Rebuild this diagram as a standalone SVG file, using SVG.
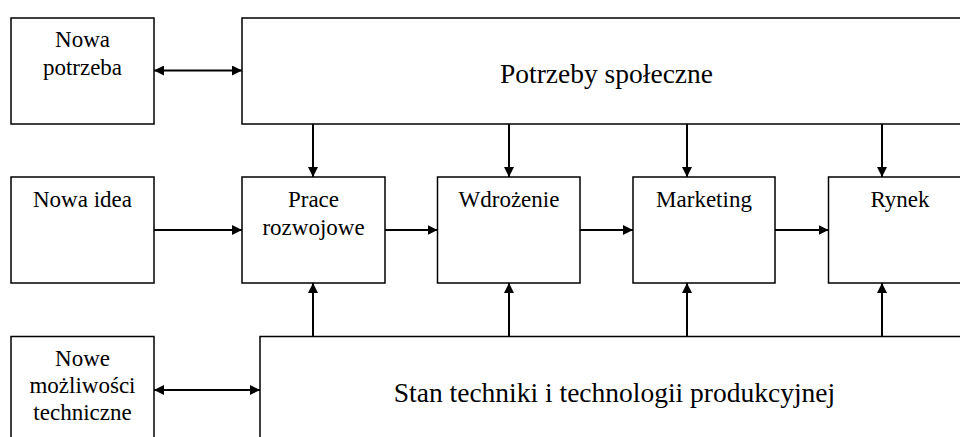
<svg xmlns="http://www.w3.org/2000/svg" width="960" height="437" viewBox="0 0 960 437">
  <style>
    .box { fill: #fff; stroke: #000; stroke-width: 1.5; }
    .lbl { font-family: "Liberation Serif", "Times New Roman", serif; font-size: 23px; fill: #000; text-anchor: middle; }
    .big { font-size: 27.5px; }
    .conn { stroke: #000; stroke-width: 2; fill: none; }
  </style>
  <defs>
    <marker id="arrow" viewBox="0 0 10 10" refX="10" refY="5" markerWidth="10" markerHeight="10" markerUnits="userSpaceOnUse" orient="auto-start-reverse">
      <path d="M0,0 L10,5 L0,10 Z" fill="#000"/>
    </marker>
  </defs>
  <rect width="960" height="437" fill="#fff"/>

  <g id="nowa-potrzeba">
    <rect class="box" x="11" y="18" width="143" height="106"/>
    <text class="lbl" x="82.5" y="47">Nowa</text>
    <text class="lbl" x="82.5" y="75">potrzeba</text>
  </g>
  <g id="potrzeby-spoleczne">
    <rect class="box" x="242" y="18" width="740" height="106"/>
    <text class="lbl big" x="606.5" y="83">Potrzeby społeczne</text>
  </g>
  <g id="nowa-idea">
    <rect class="box" x="11" y="177" width="143" height="106"/>
    <text class="lbl" x="82.5" y="207">Nowa idea</text>
  </g>
  <g id="prace-rozwojowe">
    <rect class="box" x="242" y="177" width="143" height="106"/>
    <text class="lbl" x="313.5" y="207">Prace</text>
    <text class="lbl" x="313.5" y="235">rozwojowe</text>
  </g>
  <g id="wdrozenie">
    <rect class="box" x="437.5" y="177" width="142.5" height="106"/>
    <text class="lbl" x="509" y="207">Wdrożenie</text>
  </g>
  <g id="marketing">
    <rect class="box" x="633" y="177" width="142" height="106"/>
    <text class="lbl" x="704" y="207">Marketing</text>
  </g>
  <g id="rynek">
    <rect class="box" x="828.5" y="177" width="142.5" height="106"/>
    <text class="lbl" x="900" y="207">Rynek</text>
  </g>
  <g id="nowe-mozliwosci">
    <rect class="box" x="11" y="336.5" width="143" height="120"/>
    <text class="lbl" x="82.5" y="366">Nowe</text>
    <text class="lbl" x="82.5" y="393">możliwości</text>
    <text class="lbl" x="82.5" y="420">techniczne</text>
  </g>
  <g id="stan-techniki">
    <rect class="box" x="260" y="336.5" width="720" height="120"/>
    <text class="lbl big" x="614.5" y="401.5">Stan techniki i technologii produkcyjnej</text>
  </g>

  <g id="connectors">
    <line class="conn" x1="154" y1="70.5" x2="242" y2="70.5" marker-start="url(#arrow)" marker-end="url(#arrow)"/>
    <line class="conn" x1="154" y1="390" x2="260" y2="390" marker-start="url(#arrow)" marker-end="url(#arrow)"/>

    <line class="conn" x1="313" y1="124" x2="313" y2="177" marker-end="url(#arrow)"/>
    <line class="conn" x1="509" y1="124" x2="509" y2="177" marker-end="url(#arrow)"/>
    <line class="conn" x1="687" y1="124" x2="687" y2="177" marker-end="url(#arrow)"/>
    <line class="conn" x1="882" y1="124" x2="882" y2="177" marker-end="url(#arrow)"/>

    <line class="conn" x1="154" y1="230" x2="242" y2="230" marker-end="url(#arrow)"/>
    <line class="conn" x1="385" y1="230" x2="437.5" y2="230" marker-end="url(#arrow)"/>
    <line class="conn" x1="580" y1="230" x2="633" y2="230" marker-end="url(#arrow)"/>
    <line class="conn" x1="775" y1="230" x2="828.5" y2="230" marker-end="url(#arrow)"/>

    <line class="conn" x1="313" y1="336.5" x2="313" y2="283" marker-end="url(#arrow)"/>
    <line class="conn" x1="509" y1="336.5" x2="509" y2="283" marker-end="url(#arrow)"/>
    <line class="conn" x1="687" y1="336.5" x2="687" y2="283" marker-end="url(#arrow)"/>
    <line class="conn" x1="882" y1="336.5" x2="882" y2="283" marker-end="url(#arrow)"/>
  </g>
</svg>
